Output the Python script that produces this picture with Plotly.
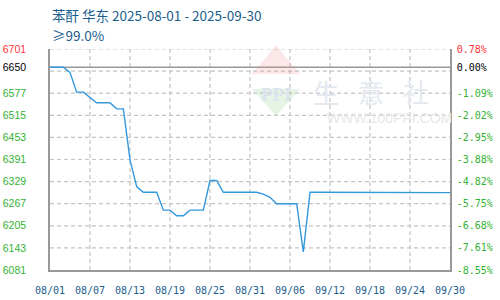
import plotly.graph_objects as go
import pandas as pd

# ---- data ----
dates = pd.date_range("2025-08-01", "2025-09-30", freq="D")
prices = [
    6650, 6650, 6650, 6635, 6580, 6580, 6566, 6550, 6550, 6550,
    6533, 6533, 6390, 6315, 6299, 6299, 6299, 6249, 6249, 6233,
    6233, 6249, 6249, 6249, 6332, 6332, 6299, 6299, 6299, 6299,
    6299, 6299, 6294, 6285, 6267, 6267, 6267, 6267, 6132, 6299,
    6299, 6299, 6299, 6299, 6299, 6299, 6299, 6299, 6299, 6299,
    6299, 6299, 6299, 6299, 6299, 6299, 6299, 6299, 6299, 6299,
    6298,
]
y_ticks = [6701, 6650, 6577, 6515, 6453, 6391, 6329, 6267, 6205, 6143, 6081]
pct_labels = ["0.78%", "0.00%", "-1.09%", "-2.02%", "-2.95%", "-3.88%",
              "-4.82%", "-5.75%", "-6.68%", "-7.61%", "-8.55%"]
grid_levels = [6081 + 62 * k for k in range(1, 11)]
x_ticks = pd.date_range("2025-08-01", "2025-09-30", freq="6D")
x_labels = [d.strftime("%m/%d") for d in x_ticks]
base = 6650
title1 = "苯酐 华东 2025-08-01 - 2025-09-30"
title2 = "≥99.0%"

GREEN = "#33b233"
RED = "#ff3333"
BLUE_T = "#1b5e8e"
GRID = "#c4c4c4"

def col(v):
    if v > base:
        return RED
    if v == base:
        return "#000000"
    return GREEN

left_text = [f"<span style='color:{col(v)}'>{v}</span>" for v in y_ticks]
right_text = [f"<span style='color:{col(v)}'>{t}</span>" for v, t in zip(y_ticks, pct_labels)]

fig = go.Figure()
fig.add_trace(go.Scatter(x=dates, y=prices, mode="lines",
                         line=dict(color="#3398dc", width=1.4),
                         hoverinfo="skip", showlegend=False))
fig.add_trace(go.Scatter(x=[dates[0]], y=[base], yaxis="y2", mode="markers",
                         marker=dict(opacity=0), showlegend=False, hoverinfo="skip"))

L, R, T, B = 50, 50, 49, 30
W, H = 500, 300
PW, PH = W - L - R, H - T - B

def px(x):
    return (x - L) / PW

def py(y):
    return (H - B - y) / PH

# dashed horizontal gridlines
for g in grid_levels:
    fig.add_shape(type="line", xref="paper", x0=0, x1=1, yref="y", y0=g, y1=g,
                  line=dict(color=GRID, width=1.2, dash="4px,3px"), layer="below")
# dashed vertical gridlines
for d in x_ticks[1:-1]:
    fig.add_shape(type="line", yref="paper", y0=0, y1=1, xref="x", x0=d, x1=d,
                  line=dict(color=GRID, width=1.2, dash="4px,3px"), layer="below")
# solid baseline
fig.add_shape(type="line", xref="paper", x0=0, x1=1, yref="y", y0=base, y1=base,
              line=dict(color="#999999", width=1.5), layer="below")

# watermark
fig.add_shape(type="path", xref="paper", yref="paper",
              path=f"M {px(252)} {py(74)} L {px(276)} {py(45)} L {px(300)} {py(74)} Z",
              fillcolor="rgba(240,140,140,0.2)", line=dict(width=0), layer="below")
fig.add_shape(type="path", xref="paper", yref="paper",
              path=f"M {px(252)} {py(89)} L {px(276)} {py(116)} L {px(300)} {py(89)} Z",
              fillcolor="rgba(130,200,130,0.2)", line=dict(width=0), layer="below")
fig.add_annotation(xref="paper", yref="paper", x=px(276), y=py(82), text="<b>PPI</b>",
                   showarrow=False, font=dict(family="Liberation Serif", size=19, color="#dde3ee"))
for ch, cx in zip("生意社", [341, 386, 431]):
    fig.add_annotation(xref="paper", yref="paper", x=px(cx), y=py(71), text=ch,
                       showarrow=False, font=dict(family="Noto Sans CJK SC", size=26, color="#e4e8f0"))
fig.add_annotation(xref="paper", yref="paper", x=px(325), y=py(108), xanchor="left",
                   text="WWW.100PPI.COM", showarrow=False,
                   font=dict(family="Liberation Sans", size=14, color="#e8e8e8"))

# titles
fig.add_annotation(xref="paper", yref="paper", x=0, y=py(15), xanchor="left", yanchor="middle",
                   text=title1, showarrow=False,
                   font=dict(family="Noto Sans CJK SC", size=13.5, color=BLUE_T))
fig.add_annotation(xref="paper", yref="paper", x=0, y=py(35), xanchor="left", yanchor="middle",
                   text=title2, showarrow=False,
                   font=dict(family="Noto Sans CJK SC", size=13.5, color=BLUE_T))

fig.update_layout(
    width=W, height=H, margin=dict(l=L, r=R, t=T, b=B, autoexpand=False),
    paper_bgcolor="white", plot_bgcolor="rgba(0,0,0,0)",
    xaxis=dict(range=[dates[0], dates[-1]], tickvals=list(x_ticks), ticktext=x_labels,
               showgrid=False,
               showline=True, linecolor="#999999", linewidth=1.5, automargin=False,
               ticks="", tickfont=dict(family="DejaVu Sans Mono", size=10, color=BLUE_T),
               ticklabelstandoff=10, zeroline=False, fixedrange=True),
    yaxis=dict(range=[6081, 6701], tickvals=y_ticks, ticktext=left_text, automargin=False,
               showgrid=False, zeroline=False, showline=True, linecolor="#999999", linewidth=1.5,
               ticks="", tickfont=dict(family="Liberation Sans", size=10.5),
               ticklabelstandoff=20),
    yaxis2=dict(range=[6081, 6701], overlaying="y", side="right", tickvals=y_ticks,
                ticktext=right_text, showgrid=False, zeroline=False, showline=True,
                linecolor="#999999", linewidth=1.5, ticks="", automargin=False,
                tickfont=dict(family="DejaVu Sans Mono", size=10), ticklabelstandoff=3),
    showlegend=False,
)

fig.write_html("out.html")
